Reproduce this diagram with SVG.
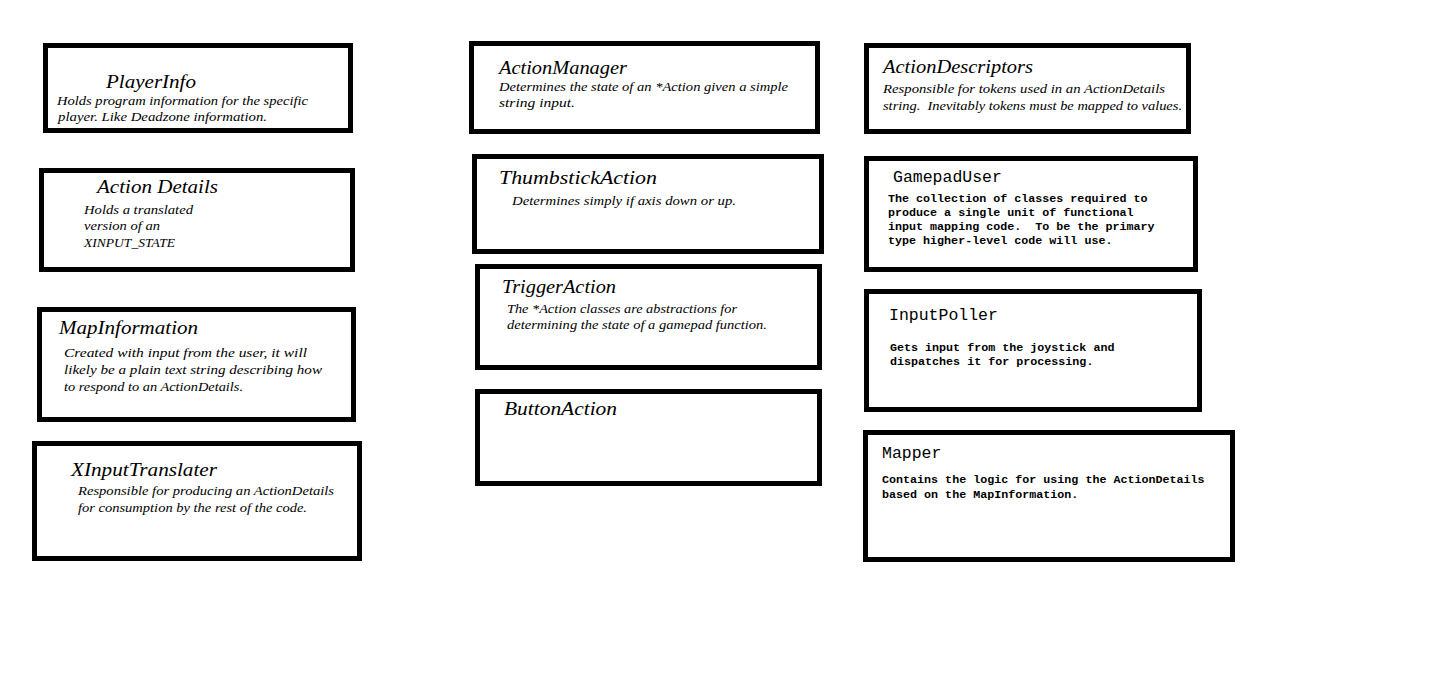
<svg xmlns="http://www.w3.org/2000/svg" width="1434" height="691" viewBox="0 0 1434 691">
<style>
.box{fill:#fff;stroke:#000;stroke-width:5}
.ht{font-family:"Liberation Serif","DejaVu Serif",serif;font-style:italic;font-size:18px;fill:#000}
.hb{font-family:"Liberation Serif","DejaVu Serif",serif;font-style:italic;font-size:11.5px;fill:#000}
.ct{font-family:"Liberation Mono","DejaVu Sans Mono",monospace;font-size:16.5px;fill:#000}
.cb{font-family:"Liberation Mono","DejaVu Sans Mono",monospace;font-size:11.7px;font-weight:bold;fill:#000}
</style>
<rect width="1434" height="691" fill="#fff"/>
<g id="connectors"/>
<g id="PlayerInfo">
<rect class="box" x="45.5" y="45.5" width="305" height="85"/>
<text class="ht" x="106" y="88" textLength="90" lengthAdjust="spacingAndGlyphs">PlayerInfo</text>
<text class="hb" x="57" y="105" textLength="251" lengthAdjust="spacingAndGlyphs">Holds program information for the specific</text>
<text class="hb" x="58" y="121" textLength="209" lengthAdjust="spacingAndGlyphs">player. Like Deadzone information.</text>
</g>
<g id="ActionDetails">
<rect class="box" x="41.5" y="170.5" width="311" height="99"/>
<text class="ht" x="97" y="193" textLength="121" lengthAdjust="spacingAndGlyphs">Action Details</text>
<text class="hb" x="84" y="214" textLength="109" lengthAdjust="spacingAndGlyphs">Holds a translated</text>
<text class="hb" x="84" y="230" textLength="76" lengthAdjust="spacingAndGlyphs">version of an</text>
<text class="hb" x="84" y="247" textLength="91" lengthAdjust="spacingAndGlyphs">XINPUT_STATE</text>
</g>
<g id="MapInformation">
<rect class="box" x="39.5" y="309.5" width="314" height="110"/>
<text class="ht" x="59" y="334" textLength="139" lengthAdjust="spacingAndGlyphs">MapInformation</text>
<text class="hb" x="64" y="357" textLength="243" lengthAdjust="spacingAndGlyphs">Created with input from the user, it will</text>
<text class="hb" x="64" y="374" textLength="258" lengthAdjust="spacingAndGlyphs">likely be a plain text string describing how</text>
<text class="hb" x="64" y="391" textLength="179" lengthAdjust="spacingAndGlyphs">to respond to an ActionDetails.</text>
</g>
<g id="XInputTranslater">
<rect class="box" x="34.5" y="443.5" width="325" height="115"/>
<text class="ht" x="71" y="476" textLength="146" lengthAdjust="spacingAndGlyphs">XInputTranslater</text>
<text class="hb" x="78" y="495" textLength="256" lengthAdjust="spacingAndGlyphs">Responsible for producing an ActionDetails</text>
<text class="hb" x="78" y="512" textLength="229" lengthAdjust="spacingAndGlyphs">for consumption by the rest of the code.</text>
</g>
<g id="ActionManager">
<rect class="box" x="471.5" y="43.5" width="346" height="88"/>
<text class="ht" x="499" y="74" textLength="128" lengthAdjust="spacingAndGlyphs">ActionManager</text>
<text class="hb" x="499" y="91" textLength="289" lengthAdjust="spacingAndGlyphs">Determines the state of an *Action given a simple</text>
<text class="hb" x="499" y="107" textLength="76" lengthAdjust="spacingAndGlyphs">string input.</text>
</g>
<g id="ThumbstickAction">
<rect class="box" x="474.5" y="156.5" width="347" height="95"/>
<text class="ht" x="499" y="184" textLength="158" lengthAdjust="spacingAndGlyphs">ThumbstickAction</text>
<text class="hb" x="512" y="205" textLength="224" lengthAdjust="spacingAndGlyphs">Determines simply if axis down or up.</text>
</g>
<g id="TriggerAction">
<rect class="box" x="477.5" y="266.5" width="342" height="101"/>
<text class="ht" x="502" y="293" textLength="114" lengthAdjust="spacingAndGlyphs">TriggerAction</text>
<text class="hb" x="507" y="313" textLength="230" lengthAdjust="spacingAndGlyphs">The *Action classes are abstractions for</text>
<text class="hb" x="507" y="329" textLength="260" lengthAdjust="spacingAndGlyphs">determining the state of a gamepad function.</text>
</g>
<g id="ButtonAction">
<rect class="box" x="477.5" y="391.5" width="342" height="92"/>
<text class="ht" x="504" y="415" textLength="113" lengthAdjust="spacingAndGlyphs">ButtonAction</text>
</g>
<g id="ActionDescriptors">
<rect class="box" x="866.5" y="45.5" width="322" height="86"/>
<text class="ht" x="883" y="73" textLength="150" lengthAdjust="spacingAndGlyphs">ActionDescriptors</text>
<text class="hb" x="883" y="93" textLength="282" lengthAdjust="spacingAndGlyphs">Responsible for tokens used in an ActionDetails</text>
<text class="hb" x="883" y="110" textLength="299" lengthAdjust="spacingAndGlyphs" xml:space="preserve">string.  Inevitably tokens must be mapped to values.</text>
</g>
<g id="GamepadUser">
<rect class="box" x="866.5" y="158.5" width="329" height="111"/>
<text class="ct" x="893" y="182">GamepadUser</text>
<text class="cb" x="888" y="202" xml:space="preserve">The collection of classes required to</text>
<text class="cb" x="888" y="216" xml:space="preserve">produce a single unit of functional</text>
<text class="cb" x="888" y="230" xml:space="preserve">input mapping code.  To be the primary</text>
<text class="cb" x="888" y="244" xml:space="preserve">type higher-level code will use.</text>
</g>
<g id="InputPoller">
<rect class="box" x="866.5" y="291.5" width="333" height="118"/>
<text class="ct" x="889" y="320">InputPoller</text>
<text class="cb" x="890" y="351">Gets input from the joystick and</text>
<text class="cb" x="890" y="365">dispatches it for processing.</text>
</g>
<g id="Mapper">
<rect class="box" x="865.5" y="432.5" width="367" height="127"/>
<text class="ct" x="882" y="458">Mapper</text>
<text class="cb" x="882" y="483">Contains the logic for using the ActionDetails</text>
<text class="cb" x="882" y="498">based on the MapInformation.</text>
</g>
</svg>
